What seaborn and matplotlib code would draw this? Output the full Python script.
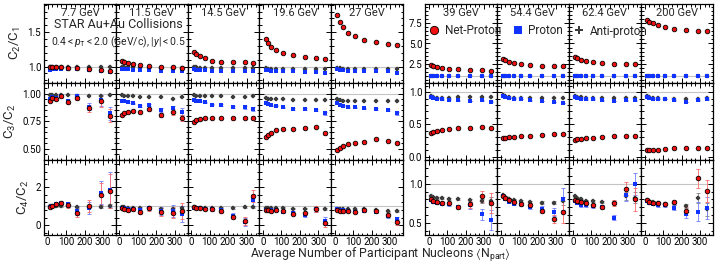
"""
Net-proton, proton and anti-proton cumulant ratios vs. centrality (Npart)
for the BES energies, 3 rows x 9 energies.
"""
import pandas as pd
import matplotlib
matplotlib.use("Agg")
import matplotlib.pyplot as plt
from matplotlib.ticker import MultipleLocator, AutoMinorLocator, FormatStrFormatter
from matplotlib.lines import Line2D
import seaborn as sns

energies = ["7.7 GeV", "11.5 GeV", "14.5 GeV", "19.6 GeV", "27 GeV",
            "39 GeV", "54.4 GeV", "62.4 GeV", "200 GeV"]
npart = [14, 26, 45, 72, 110, 160, 226, 290, 337]

# ---- C2/C1 (one row per energy) ----
c21_net = [
    [0.99, 1.00, 1.00, 1.00, 0.98, 0.98, 0.97, 0.95, 0.93],
    [1.08, 1.07, 1.05, 1.03, 1.02, 1.01, 1.00, 1.00, 0.98],
    [1.21, 1.18, 1.15, 1.12, 1.08, 1.07, 1.06, 1.06, 1.05],
    [1.40, 1.34, 1.28, 1.24, 1.20, 1.17, 1.14, 1.13, 1.11],
    [1.75, 1.65, 1.57, 1.49, 1.44, 1.39, 1.35, 1.33, 1.31],
    [2.37, 2.20, 2.08, 1.95, 1.83, 1.79, 1.70, 1.66, 1.62],
    [3.13, 2.91, 2.75, 2.58, 2.45, 2.33, 2.25, 2.20, 2.16],
    [3.33, 3.16, 3.00, 2.83, 2.66, 2.58, 2.45, 2.41, 2.41],
    [7.90, 7.70, 7.50, 7.29, 7.00, 6.79, 6.62, 6.58, 6.54],
]
c21_pro = [
    [0.95, 0.96, 0.97, 0.97, 0.97, 0.97, 0.95, 0.94, 0.92],
    [0.96, 0.96, 0.96, 0.95, 0.95, 0.95, 0.94, 0.94, 0.93],
    [0.96, 0.95, 0.95, 0.95, 0.94, 0.94, 0.94, 0.93, 0.93],
    [0.95, 0.95, 0.94, 0.94, 0.94, 0.93, 0.92, 0.92, 0.91],
    [0.96, 0.95, 0.95, 0.94, 0.94, 0.93, 0.93, 0.93, 0.91],
    [0.97, 0.97, 0.97, 0.97, 0.97, 0.96, 0.96, 0.96, 0.96],
    [0.98, 0.97, 0.97, 0.97, 0.97, 0.97, 0.97, 0.96, 0.96],
    [0.98, 0.97, 0.97, 0.97, 0.97, 0.97, 0.97, 0.97, 0.96],
    [0.99, 0.99, 0.98, 0.98, 0.98, 0.98, 0.98, 0.98, 0.98],
]
c21_anti = [
    [1.00, 1.00, 1.00, 1.00, 1.00, 0.99, 0.99, 0.99, 0.99],
    [0.99, 0.99, 0.99, 0.99, 0.98, 0.98, 0.98, 0.98, 0.98],
    [0.99, 0.99, 0.98, 0.98, 0.98, 0.98, 0.98, 0.98, 0.98],
    [0.98, 0.97, 0.97, 0.97, 0.97, 0.97, 0.97, 0.97, 0.97],
    [0.98, 0.98, 0.97, 0.97, 0.97, 0.97, 0.97, 0.97, 0.97],
    [0.99, 0.99, 0.99, 0.99, 0.99, 0.99, 0.99, 0.99, 0.99],
    [0.99, 0.99, 0.99, 0.99, 0.99, 0.99, 0.99, 0.99, 0.99],
    [0.99, 0.99, 0.99, 0.99, 0.99, 0.99, 0.99, 0.99, 0.99],
    [0.99, 0.99, 0.99, 0.99, 0.99, 0.99, 0.99, 0.99, 0.99],
]

# ---- C3/C2 ----
c32_net = [
    [0.93, 0.96, 0.955, 0.975, 0.92, 0.96, 0.865, 0.93, 0.80],
    [0.81, 0.826, 0.835, 0.84, 0.83, 0.856, 0.805, 0.835, 0.78],
    [0.745, 0.76, 0.77, 0.775, 0.775, 0.775, 0.775, 0.78, 0.78],
    [0.605, 0.626, 0.647, 0.67, 0.677, 0.68, 0.69, 0.70, 0.64],
    [0.49, 0.506, 0.53, 0.545, 0.55, 0.566, 0.59, 0.572, 0.55],
    [0.362, 0.378, 0.393, 0.413, 0.43, 0.44, 0.444, 0.464, 0.44],
    [0.286, 0.296, 0.30, 0.31, 0.32, 0.327, 0.337, 0.347, 0.347],
    [0.26, 0.27, 0.276, 0.286, 0.296, 0.31, 0.32, 0.327, 0.327],
    [0.097, 0.097, 0.097, 0.107, 0.117, 0.128, 0.128, 0.133, 0.128],
]
c32_pro = [
    [0.95, 0.97, 0.964, 0.98, 0.937, 0.976, 0.88, 0.94, 0.82],
    [0.934, 0.931, 0.925, 0.91, 0.886, 0.895, 0.85, 0.865, 0.835],
    [0.94, 0.935, 0.93, 0.92, 0.90, 0.895, 0.88, 0.875, 0.86],
    [0.91, 0.904, 0.895, 0.889, 0.874, 0.86, 0.86, 0.85, 0.82],
    [0.91, 0.895, 0.889, 0.877, 0.877, 0.865, 0.86, 0.85, 0.82],
    [0.923, 0.913, 0.898, 0.888, 0.883, 0.872, 0.862, 0.872, 0.847],
    [0.934, 0.923, 0.908, 0.898, 0.888, 0.872, 0.862, 0.847, 0.832],
    [0.923, 0.913, 0.898, 0.888, 0.888, 0.872, 0.862, 0.872, 0.872],
    [0.923, 0.913, 0.898, 0.888, 0.888, 0.872, 0.847, 0.872, 0.888],
]
c32_anti = [
    [0.99, 0.99, 0.99, 0.985, 0.985, 0.975, 0.975, 0.98, 0.99],
    [0.985, 0.98, 0.975, 0.975, 0.97, 0.97, 0.965, 0.955, 0.97],
    [0.985, 0.98, 0.975, 0.975, 0.975, 0.975, 0.97, 0.97, 0.975],
    [0.96, 0.955, 0.95, 0.95, 0.955, 0.943, 0.943, 0.943, 0.946],
    [0.955, 0.946, 0.937, 0.934, 0.93, 0.93, 0.934, 0.93, 0.93],
    [0.94, 0.923, 0.913, 0.908, 0.908, 0.918, 0.918, 0.918, 0.923],
    [0.95, 0.94, 0.923, 0.913, 0.913, 0.908, 0.908, 0.913, 0.908],
    [0.934, 0.93, 0.92, 0.915, 0.91, 0.91, 0.91, 0.913, 0.913],
    [0.934, 0.923, 0.913, 0.908, 0.898, 0.898, 0.898, 0.898, 0.908],
]
c32_err = [
    [0.01, 0.01, 0.01, 0.012, 0.015, 0.02, 0.03, 0.05, 0.06],
    [0.005, 0.006, 0.007, 0.008, 0.01, 0.012, 0.02, 0.025, 0.03],
    [0.005, 0.005, 0.005, 0.006, 0.007, 0.008, 0.01, 0.012, 0.015],
    [0.004, 0.004, 0.004, 0.005, 0.005, 0.006, 0.008, 0.01, 0.012],
    [0.003, 0.003, 0.004, 0.004, 0.005, 0.005, 0.006, 0.008, 0.01],
    [0.003, 0.003, 0.003, 0.004, 0.004, 0.005, 0.005, 0.006, 0.008],
    [0.002, 0.002, 0.003, 0.003, 0.003, 0.004, 0.004, 0.005, 0.006],
    [0.003, 0.003, 0.003, 0.004, 0.004, 0.005, 0.005, 0.006, 0.008],
    [0.002, 0.002, 0.002, 0.003, 0.003, 0.003, 0.004, 0.005, 0.006],
]

# ---- C4/C2 ----
c42_net = [
    [0.95, 1.00, 1.09, 1.14, 1.05, 0.66, 1.00, 1.60, 1.78],
    [0.88, 0.83, 0.78, 0.83, 0.71, 0.88, 0.69, 0.66, 0.74],
    [0.95, 0.91, 0.88, 0.86, 0.83, 0.74, 0.43, 0.22, 1.52],
    [0.79, 0.79, 0.76, 0.79, 0.74, 0.60, 0.62, 0.86, 0.14],
    [0.79, 0.76, 0.76, 0.74, 0.71, 0.78, 0.74, 0.53, 0.19],
    [0.80, 0.78, 0.767, 0.758, 0.75, 0.704, 0.738, 0.84, 0.758],
    [0.85, 0.82, 0.79, 0.77, 0.746, 0.725, 0.654, 0.558, 0.646],
    [0.79, 0.78, 0.767, 0.75, 0.725, 0.708, 0.758, 0.938, 0.80],
    [0.79, 0.77, 0.758, 0.75, 0.746, 0.767, 0.654, 1.07, 0.904],
]
c42_pro = [
    [0.95, 1.00, 1.10, 1.17, 1.09, 0.74, 0.91, 1.69, 1.86],
    [0.91, 0.88, 0.83, 0.86, 0.79, 0.91, 0.74, 0.74, 0.60],
    [0.93, 0.91, 0.88, 0.86, 0.84, 0.78, 0.50, 0.16, 1.30],
    [0.79, 0.79, 0.78, 0.79, 0.71, 0.66, 0.52, 0.83, 0.22],
    [0.83, 0.79, 0.78, 0.76, 0.71, 0.74, 0.72, 0.48, 0.31],
    [0.79, 0.767, 0.758, 0.746, 0.738, 0.704, 0.725, 0.61, 0.54],
    [0.84, 0.80, 0.767, 0.746, 0.738, 0.704, 0.683, 0.64, 0.81],
    [0.78, 0.758, 0.725, 0.725, 0.717, 0.704, 0.57, 0.863, 1.00],
    [0.78, 0.758, 0.738, 0.725, 0.725, 0.696, 0.61, 0.646, 0.696],
]
c42_anti = [
    [1.00, 1.00, 1.00, 1.00, 1.00, 0.95, 0.95, 0.97, 1.03],
    [0.95, 0.95, 0.91, 0.91, 0.91, 0.91, 0.86, 0.86, 0.91],
    [0.95, 0.93, 0.93, 0.93, 0.93, 0.91, 0.90, 0.95, 0.95],
    [0.91, 0.91, 0.88, 0.88, 0.93, 0.86, 0.86, 0.86, 0.86],
    [0.86, 0.86, 0.83, 0.83, 0.83, 0.83, 0.79, 0.74, 0.74],
    [0.84, 0.833, 0.82, 0.82, 0.81, 0.81, 0.79, 0.78, 0.78],
    [0.854, 0.833, 0.81, 0.79, 0.78, 0.767, 0.758, 0.758, 0.78],
    [0.84, 0.82, 0.80, 0.787, 0.78, 0.77, 0.758, 0.84, 0.82],
    [0.79, 0.78, 0.767, 0.758, 0.746, 0.75, 0.717, 0.82, 0.675],
]
c42_err = [
    [0.05, 0.06, 0.08, 0.10, 0.15, 0.20, 0.30, 0.60, 0.90],
    [0.04, 0.05, 0.06, 0.07, 0.10, 0.12, 0.20, 0.30, 0.40],
    [0.03, 0.04, 0.05, 0.06, 0.07, 0.10, 0.12, 0.20, 0.30],
    [0.03, 0.03, 0.04, 0.05, 0.06, 0.08, 0.10, 0.15, 0.20],
    [0.02, 0.03, 0.03, 0.04, 0.05, 0.06, 0.08, 0.10, 0.15],
    [0.01, 0.01, 0.015, 0.02, 0.02, 0.03, 0.04, 0.07, 0.13],
    [0.01, 0.01, 0.015, 0.015, 0.02, 0.025, 0.03, 0.05, 0.14],
    [0.01, 0.01, 0.015, 0.02, 0.02, 0.025, 0.035, 0.08, 0.14],
    [0.01, 0.01, 0.01, 0.015, 0.02, 0.03, 0.05, 0.12, 0.14],
]
c42_err_anti = [
    [0.05, 0.05, 0.05, 0.05, 0.06, 0.06, 0.07, 0.08, 0.10],
    [0.03, 0.03, 0.03, 0.04, 0.04, 0.05, 0.05, 0.06, 0.08],
    [0.02, 0.02, 0.02, 0.03, 0.03, 0.03, 0.04, 0.04, 0.05],
    [0.02, 0.02, 0.02, 0.02, 0.03, 0.03, 0.03, 0.04, 0.04],
    [0.01, 0.01, 0.02, 0.02, 0.02, 0.02, 0.03, 0.03, 0.04],
    [0.01, 0.01, 0.01, 0.01, 0.015, 0.015, 0.02, 0.03, 0.05],
    [0.01, 0.01, 0.01, 0.01, 0.015, 0.015, 0.02, 0.02, 0.05],
    [0.01, 0.01, 0.01, 0.01, 0.015, 0.015, 0.02, 0.05, 0.07],
    [0.01, 0.01, 0.01, 0.01, 0.015, 0.015, 0.03, 0.06, 0.08],
]

ylabels = [r"C$_2$/C$_1$", r"C$_3$/C$_2$", r"C$_4$/C$_2$"]

RED, BLUE, GREY = "#f01010", "#1033ff", "#3c3c3c"

sns.set_theme(style="ticks")
plt.rcParams["font.family"] = ["Roboto", "DejaVu Sans"]
plt.rcParams["mathtext.fontset"] = "custom"
plt.rcParams["mathtext.rm"] = "Roboto"
plt.rcParams["mathtext.it"] = "Roboto:italic"
plt.rcParams["mathtext.fallback"] = "stixsans"

W, H = 720, 264
fig = plt.figure(figsize=(W / 100, H / 100), dpi=100)
grid = dict(top=1 - 4 / H, bottom=1 - 235 / H, wspace=0, hspace=0,
            height_ratios=[79, 77, 75])
gs_left = fig.add_gridspec(3, 5, left=44 / W, right=403 / W, **grid)
gs_right = fig.add_gridspec(3, 4, left=425 / W, right=713 / W, **grid)

rows = [
    (c21_net, c21_pro, c21_anti, None, None),
    (c32_net, c32_pro, c32_anti, c32_err, None),
    (c42_net, c42_pro, c42_anti, c42_err, c42_err_anti),
]
# (ylim, major step, label format) for left / right groups
ylims_left = [((0.76, 1.91), 0.5, "%.1f"), ((0.40, 1.095), 0.25, "%.2f"), ((-0.5, 3.4), 2, "%d")]
ylims_right = [((0.1, 9.9), 2.5, "%.1f"), ((-0.05, 1.14), 0.5, "%.1f"), ((0.35, 1.3), 0.5, "%.1f")]

for r, (net, pro, anti, err, err_anti) in enumerate(rows):
    for e, energy in enumerate(energies):
        left_group = e < 5
        ax = fig.add_subplot(gs_left[r, e] if left_group else gs_right[r, e - 5])
        df = pd.DataFrame({"npart": npart, "net": net[e], "pro": pro[e], "anti": anti[e]})

        ax.axhline(1, color="#c4c4c4", lw=0.8, zorder=0)
        if err is not None:
            if err_anti is not None:
                ax.errorbar(df["npart"], df["anti"], yerr=err_anti[e], fmt="none",
                            ecolor="#808080", elinewidth=0.6, capsize=1.5, capthick=0.6, zorder=1)
            ax.errorbar(df["npart"], df["pro"], yerr=err[e], fmt="none",
                        ecolor="#6f7dff", elinewidth=0.6, capsize=1.5, capthick=0.6, zorder=1)
            ax.errorbar(df["npart"], df["net"], yerr=err[e], fmt="none",
                        ecolor="#ff6a6a", elinewidth=0.6, capsize=1.5, capthick=0.6, zorder=2)

        sns.scatterplot(data=df, x="npart", y="anti", marker="P", color=GREY,
                        edgecolor=GREY, s=11, linewidth=0.2, ax=ax, zorder=3, legend=False)
        sns.scatterplot(data=df, x="npart", y="pro", marker="s", color=BLUE,
                        s=9, linewidth=0, ax=ax, zorder=4, legend=False)
        sns.scatterplot(data=df, x="npart", y="net", marker="o", color=RED,
                        edgecolor="black", linewidth=0.6, s=11, ax=ax, zorder=5, legend=False)

        (lo, hi), step, fmt = (ylims_left if left_group else ylims_right)[r]
        ax.set_xlim(-20, 370)
        ax.set_ylim(lo, hi)
        ax.xaxis.set_major_locator(MultipleLocator(100))
        ax.xaxis.set_minor_locator(AutoMinorLocator(4))
        ax.yaxis.set_major_locator(MultipleLocator(step))
        ax.yaxis.set_minor_locator(AutoMinorLocator(5))
        ax.yaxis.set_major_formatter(FormatStrFormatter(fmt))
        ax.tick_params(which="both", direction="in", top=True, right=True,
                       labelsize=7, pad=2, colors="black", width=0.7)
        ax.tick_params(axis="x", pad=1.5)
        ax.tick_params(which="major", length=3.5)
        ax.tick_params(which="minor", length=1.8)
        for sp in ax.spines.values():
            sp.set_color("black")
            sp.set_linewidth(0.9)
        ax.set_xlabel("")
        ax.set_ylabel("")
        if r < 2:
            ax.tick_params(labelbottom=False)
        if e not in (0, 5):
            ax.tick_params(labelleft=False)
        if e == 0:
            ax.set_ylabel(ylabels[r], fontsize=9.5, labelpad=3)
        if r == 0:
            ax.text(0.5, 0.885, energy, transform=ax.transAxes, ha="center",
                    va="center", fontsize=8)

fig.text(118 / W, 1 - 25 / H, "STAR Au+Au Collisions", ha="center", va="center", fontsize=9)
fig.text(118 / W, 1 - 42 / H, r"$0.4 < p_{\rm T} < 2.0$ (GeV/c), $|y| < 0.5$",
         ha="center", va="center", fontsize=7.5)

handles = [
    Line2D([], [], ls="none", marker="o", color=RED, mec="black", mew=0.6, ms=6, label="Net-Proton"),
    Line2D([], [], ls="none", marker="s", color=BLUE, mew=0, ms=5.5, label="Proton"),
    Line2D([], [], ls="none", marker="P", color=GREY, mew=0, ms=6, label="Anti-proton"),
]
fig.legend(handles=handles, loc="center", bbox_to_anchor=(538 / W, 1 - 31 / H), ncol=3,
           frameon=False, fontsize=8.5, handlelength=1.0, handletextpad=0.4,
           columnspacing=0.9, borderpad=0)

fig.text(380 / W, 1 - 255 / H,
         r"Average Number of Participant Nucleons $\langle$N$_{\rm part}$$\rangle$",
         ha="center", va="center", fontsize=8.8)

fig.savefig("out.png", dpi=100)
plt.close(fig)
